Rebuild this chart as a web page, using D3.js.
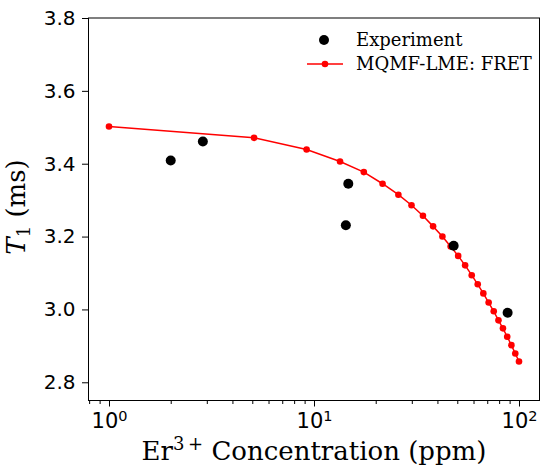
<html>
<head>
<script src="https://d3js.org/d3.v7.min.js"></script>
<style>
  body { margin: 0; background: #fff; }
  svg text { fill: #000; }
</style>
</head>
<body>
<div id="graph"></div>
<script>
// data
var fretConc = [1, 5.1, 9.2, 13.4, 17.5, 21.6, 25.8, 29.9, 34, 38.1, 42.3, 46.4, 50.5,
                54.6, 58.8, 62.9, 67, 71.1, 75.3, 79.4, 83.5, 87.6, 91.8, 95.9, 100];
var fretT1 = [3.502, 3.471, 3.439, 3.406, 3.377, 3.345, 3.315, 3.286, 3.257, 3.228, 3.200, 3.173, 3.147,
              3.121, 3.094, 3.069, 3.044, 3.019, 2.995, 2.970, 2.948, 2.925, 2.902, 2.879, 2.857];
var expConc = [2, 2.87, 14.3, 14.7, 48, 88];
var expT1 = [3.409, 3.461, 3.231, 3.345, 3.175, 2.991];
var yTicks = [2.8, 3.0, 3.2, 3.4, 3.6, 3.8];
var xMajor = [1, 10, 100];

var W = 542, H = 466;
var m = {left: 88.5, right: 539.5, top: 18, bottom: 400.5};

var svg = d3.select("#graph").append("svg")
    .attr("width", W).attr("height", H);

var x = d3.scaleLog()
    .domain([Math.pow(10, -0.1), Math.pow(10, 2.1)])
    .range([m.left, m.right]);
var y = d3.scaleLinear()
    .domain([2.75, 3.8])
    .range([m.bottom, m.top]);

// y axis
var yAxis = d3.axisLeft(y).tickValues(yTicks).tickSize(6.5).tickPadding(6.5)
    .tickFormat(d3.format(".1f"));
svg.append("g")
    .attr("transform", "translate(" + m.left + ",0)")
    .call(yAxis)
    .call(function(g) {
        g.select(".domain").remove();
        g.selectAll("text").attr("font-family", "DejaVu Sans").attr("font-size", 20);
    });

// x axis minor ticks
var minor = x.ticks().filter(function(d) { return xMajor.indexOf(d) < 0; });
svg.append("g")
    .attr("transform", "translate(0," + m.bottom + ")")
    .call(d3.axisBottom(x).tickValues(minor).tickSize(3.5).tickFormat(""))
    .call(function(g) { g.select(".domain").remove(); });

// x axis major ticks
var xg = svg.append("g")
    .attr("transform", "translate(0," + m.bottom + ")")
    .call(d3.axisBottom(x).tickValues(xMajor).tickSize(6).tickFormat(""));
xg.select(".domain").remove();
xg.selectAll(".tick").each(function(d) {
    var t = d3.select(this).append("text")
        .attr("y", 27.5).attr("text-anchor", "middle")
        .attr("font-family", "DejaVu Sans").attr("font-size", 21);
    t.append("tspan").text("10");
    t.append("tspan").attr("dy", -7).attr("font-size", 14.5).text(Math.round(Math.log10(d)));
});

// frame
svg.append("rect")
    .attr("x", m.left).attr("y", m.top)
    .attr("width", m.right - m.left).attr("height", m.bottom - m.top)
    .attr("fill", "none").attr("stroke", "#000").attr("stroke-width", 1);

// FRET model line + markers
var line = d3.line()
    .x(function(d, i) { return x(fretConc[i]); })
    .y(function(d) { return y(d); });
svg.append("path")
    .datum(fretT1)
    .attr("d", line)
    .attr("fill", "none").attr("stroke", "#ff0000").attr("stroke-width", 1.5);
svg.selectAll(".fret").data(fretT1).enter().append("circle")
    .attr("class", "fret")
    .attr("cx", function(d, i) { return x(fretConc[i]); })
    .attr("cy", function(d) { return y(d); })
    .attr("r", 3.3).attr("fill", "#ff0000");

// experimental points
svg.selectAll(".exp").data(expT1).enter().append("circle")
    .attr("class", "exp")
    .attr("cx", function(d, i) { return x(expConc[i]); })
    .attr("cy", function(d) { return y(d); })
    .attr("r", 5).attr("fill", "#000");

// legend
var lg = svg.append("g").attr("font-family", "DejaVu Serif").attr("font-size", 18);
lg.append("circle").attr("cx", 324).attr("cy", 40).attr("r", 5).attr("fill", "#000");
lg.append("text").attr("x", 356).attr("y", 40).attr("dy", "0.35em").text("Experiment");
lg.append("line").attr("x1", 307).attr("x2", 343).attr("y1", 64).attr("y2", 64)
    .attr("stroke", "#ff0000").attr("stroke-width", 1.5);
lg.append("circle").attr("cx", 325).attr("cy", 64).attr("r", 3.3).attr("fill", "#ff0000");
lg.append("text").attr("x", 356).attr("y", 64).attr("dy", "0.35em").text("MQMF-LME: FRET");

// axis titles
var xt = svg.append("text")
    .attr("x", (m.left + m.right) / 2).attr("y", 459.5)
    .attr("text-anchor", "middle")
    .attr("font-family", "DejaVu Serif").attr("font-size", 26);
xt.append("tspan").text("Er");
xt.append("tspan").attr("dy", -10).attr("font-size", 18).text("3\u2009+");
xt.append("tspan").attr("dy", 10).text(" Concentration (ppm)");

var yt = svg.append("text")
    .attr("transform", "translate(25," + 207 + ") rotate(-90)")
    .attr("text-anchor", "middle")
    .attr("font-family", "DejaVu Serif").attr("font-size", 26);
yt.append("tspan").attr("font-style", "italic").text("T");
yt.append("tspan").attr("dy", 5).attr("font-size", 18).text("1");
yt.append("tspan").attr("dy", -5).text(" (ms)");
</script>
</body>
</html>
